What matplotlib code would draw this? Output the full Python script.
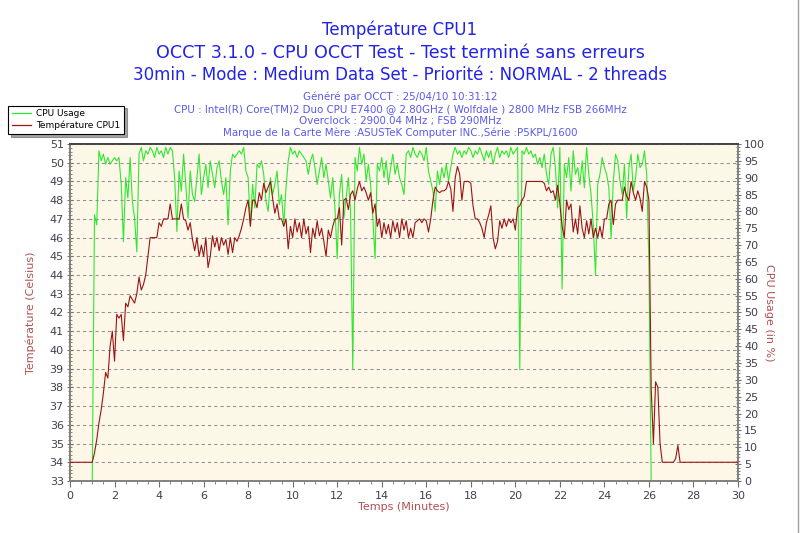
import numpy as np
import matplotlib
matplotlib.use("Agg")
import matplotlib.pyplot as plt
from matplotlib.ticker import MultipleLocator
from matplotlib.lines import Line2D

# ---------------- data (sampled every 0.1 minute, 0 .. 30 min) ----------------
time_min = np.round(np.arange(0, 301) * 0.1, 1)

temperature = [
    34, 34, 34, 34, 34, 34, 34, 34, 34, 34,            # 0.0 - 0.9
    34, 34.5, 35.2, 36.1, 36.8, 37.7, 38.8, 38.5, 40.2, 41.0,   # 1.0 - 1.9
    39.4, 41.9, 41.7, 41.9, 40.5, 42.5, 42.3, 42.9, 42.7, 42.5, # 2.0 - 2.9
    43.0, 43.9, 43.2, 43.5, 44.0, 45.0, 46.0, 46.0, 46.0, 46.0, # 3.0 - 3.9
    46.8, 46.6, 47.0, 47.0, 47.0, 47.8, 47.0, 47.0, 47.0, 47.0, # 4.0 - 4.9
    47.8, 47.0, 46.9, 46.4, 46.8, 45.9, 45.3, 46.0, 45.0, 45.6, # 5.0 - 5.9
    45.0, 46.0, 44.4, 45.0, 46.1, 45.5, 46.0, 45.3, 46.0, 45.6, # 6.0 - 6.9
    45.9, 45.1, 46.0, 45.2, 46.0, 45.8, 46.1, 46.5, 47.0, 47.6, # 7.0 - 7.9
    48.0, 46.6, 48.0, 48.0, 47.6, 48.4, 48.0, 48.9, 48.4, 48.7, # 8.0 - 8.9
    49.0, 48.1, 47.3, 47.8, 47.0, 47.0, 46.6, 47.0, 45.4, 46.6, # 9.0 - 9.9
    46.0, 47.0, 46.3, 46.8, 46.0, 47.0, 46.2, 46.6, 45.2, 46.5, # 10.0 - 10.9
    46.0, 46.9, 46.1, 46.5, 45.8, 45.0, 46.4, 46.0, 46.6, 47.0, # 11.0 - 11.9
    47.0, 47.6, 45.6, 48.0, 48.1, 47.5, 48.3, 48.5, 48.0, 48.6, # 12.0 - 12.9
    49.0, 48.5, 48.7, 48.4, 48.0, 48.4, 47.3, 47.8, 46.6, 47.0, # 13.0 - 13.9
    46.0, 46.8, 46.2, 46.7, 46.0, 46.9, 46.3, 46.8, 46.0, 47.0, # 14.0 - 14.9
    46.4, 46.9, 46.0, 46.5, 46.0, 46.8, 46.9, 47.0, 46.8, 47.0, # 15.0 - 15.9
    46.9, 46.3, 47.0, 48.0, 48.7, 48.5, 48.4, 48.5, 48.5, 48.6, # 16.0 - 16.9
    49.0, 48.6, 47.4, 49.2, 49.8, 49.4, 48.0, 49.0, 49.0, 49.0, # 17.0 - 17.9
    48.9, 47.7, 47.0, 47.0, 46.8, 46.5, 46.0, 46.8, 47.2, 47.7, # 18.0 - 18.9
    46.0, 45.4, 45.8, 46.9, 46.5, 47.0, 46.6, 47.0, 46.8, 47.0, # 19.0 - 19.9
    46.4, 47.6, 47.7, 48.0, 48.2, 49.0, 49.0, 49.0, 49.0, 49.0, # 20.0 - 20.9
    49.0, 49.0, 49.0, 48.9, 48.5, 48.7, 48.4, 48.5, 48.0, 48.8, # 21.0 - 21.9
    47.8, 46.6, 46.0, 48.0, 47.5, 47.8, 46.3, 47.0, 46.2, 47.7, # 22.0 - 22.9
    46.5, 46.0, 46.9, 46.2, 47.0, 46.0, 46.5, 46.0, 46.6, 46.0, # 23.0 - 23.9
    47.0, 47.0, 47.8, 48.0, 46.7, 47.8, 48.0, 48.0, 48.0, 48.7, # 24.0 - 24.9
    48.2, 48.0, 49.0, 48.4, 48.0, 48.5, 48.1, 47.4, 49.0, 48.7, # 25.0 - 25.9
    48.0, 38.0, 35.0, 38.3, 38.0, 35.0, 34.0, 34.0, 34.0, 34.0, # 26.0 - 26.9
    34.0, 34.0, 34.2, 34.9, 34.0, 34.0, 34.0, 34.0, 34.0, 34.0, # 27.0 - 27.9
    34, 34, 34, 34, 34, 34, 34, 34, 34, 34,                      # 28.0 - 28.9
    34, 34, 34, 34, 34, 34, 34, 34, 34, 34,                      # 29.0 - 29.9
    34,                                                          # 30.0
]

cpu_usage = [
    0, 0, 0, 0, 0, 0, 0, 0, 0, 0,                 # 0.0 - 0.9
    0, 79, 76, 98, 95, 97, 94, 96, 94, 95,        # 1.0 - 1.9
    96, 95, 96, 88, 71, 90, 84, 96, 83, 78,       # 2.0 - 2.9
    68, 97, 99, 95, 98, 97, 99, 98, 96, 99,       # 3.0 - 3.9
    97, 98, 96, 99, 97, 99, 98, 90, 74, 92,       # 4.0 - 4.9
    86, 97, 88, 78, 92, 85, 83, 90, 97, 85,       # 5.0 - 5.9
    90, 94, 87, 95, 91, 87, 93, 95, 89, 85,       # 6.0 - 6.9
    90, 76, 92, 97, 96, 97, 98, 97, 99, 92,       # 7.0 - 7.9
    90, 76, 88, 81, 94, 93, 95, 91, 83, 80,       # 8.0 - 8.9
    90, 85, 88, 92, 82, 85, 76, 87, 95, 99,       # 9.0 - 9.9
    97, 98, 96, 98, 97, 96, 95, 91, 95, 97,       # 10.0 - 10.9
    93, 88, 92, 96, 90, 94, 89, 84, 90, 81,       # 11.0 - 11.9
    66, 85, 91, 78, 84, 90, 80, 33, 96, 92,       # 12.0 - 12.9
    99, 94, 97, 89, 94, 88, 78, 66, 94, 92,       # 13.0 - 13.9
    96, 90, 95, 88, 93, 97, 91, 94, 90, 88,       # 14.0 - 14.9
    85, 97, 98, 96, 99, 97, 96, 98, 97, 95,       # 15.0 - 15.9
    99, 92, 89, 86, 80, 92, 88, 93, 90, 94,       # 16.0 - 16.9
    89, 93, 97, 99, 97, 98, 96, 98, 97, 99,       # 17.0 - 17.9
    98, 96, 98, 97, 99, 97, 95, 98, 96, 98,       # 18.0 - 18.9
    94, 97, 99, 96, 98, 97, 98, 96, 99, 97,       # 19.0 - 19.9
    98, 99, 33, 98, 97, 99, 97, 98, 96, 97,       # 20.0 - 20.9
    94, 96, 93, 97, 91, 88, 97, 99, 93, 81,       # 21.0 - 21.9
    99, 57, 94, 90, 96, 86, 98, 91, 93, 88,       # 22.0 - 22.9
    95, 87, 99, 91, 85, 76, 61, 88, 91, 96,       # 23.0 - 23.9
    93, 91, 87, 72, 89, 97, 95, 89, 85, 94,       # 24.0 - 24.9
    78, 93, 97, 86, 90, 97, 93, 94, 98, 91,       # 25.0 - 25.9
    64, 0, 0, 0, 0, 0, 0, 0, 0, 0,                # 26.0 - 26.9
    0, 0, 0, 0, 0, 0, 0, 0, 0, 0,                 # 27.0 - 27.9
    0, 0, 0, 0, 0, 0, 0, 0, 0, 0,                 # 28.0 - 28.9
    0, 0, 0, 0, 0, 0, 0, 0, 0, 0,                 # 29.0 - 29.9
    0,                                            # 30.0
]

x_ticks = list(range(0, 31, 2))
temp_ticks = list(range(33, 52))
cpu_ticks = list(range(0, 101, 5))

title_lines = [
    "Température CPU1",
    "OCCT 3.1.0 - CPU OCCT Test - Test terminé sans erreurs",
    "30min - Mode : Medium Data Set - Priorité : NORMAL - 2 threads",
]
info_lines = [
    "Généré par OCCT : 25/04/10 10:31:12",
    "CPU : Intel(R) Core(TM)2 Duo CPU E7400 @ 2.80GHz ( Wolfdale ) 2800 MHz FSB 266MHz",
    "Overclock : 2900.04 MHz ; FSB 290MHz",
    "Marque de la Carte Mère :ASUSTeK Computer INC.,Série :P5KPL/1600",
]

# ---------------- style ----------------
plt.rcParams['font.family'] = ['DejaVu Sans']
TITLE_BLUE = '#2323e6'
INFO_BLUE = '#5a5ae8'
AXIS_LABEL = '#b05050'
TICK_TXT = '#404050'
TEMP_COLOR = '#9a1414'
CPU_COLOR = '#2ee82e'
BG = '#fdf7e8'
GRID = '#8f8f8f'

fig = plt.figure(figsize=(8.0, 5.33), dpi=100)
ax_cpu = fig.add_axes([0.0875, 0.0976, 0.835, 0.6322])
ax = ax_cpu.twinx()
ax.yaxis.tick_left()
ax.yaxis.set_label_position('left')
ax_cpu.yaxis.tick_right()
ax_cpu.yaxis.set_label_position('right')

ax_cpu.set_facecolor(BG)
ax.patch.set_visible(False)

ax_cpu.plot(time_min, cpu_usage, color=CPU_COLOR, lw=0.8, zorder=2)
ax.plot(time_min, temperature, color=TEMP_COLOR, lw=0.8, zorder=3)

ax.set_xlim(0, 30)
ax.set_ylim(33, 51)
ax_cpu.set_ylim(0, 100)

ax_cpu.set_xticks(x_ticks)
ax_cpu.xaxis.set_minor_locator(MultipleLocator(0.5))
ax.set_yticks(temp_ticks)
ax.yaxis.set_minor_locator(MultipleLocator(0.2))
ax_cpu.set_yticks(cpu_ticks)
ax_cpu.yaxis.set_minor_locator(MultipleLocator(1))

ax.grid(True, axis='both', color=GRID, ls=(0, (3, 3)), lw=0.75)
ax.set_xticks(x_ticks)

for a in (ax, ax_cpu):
    a.tick_params(axis='both', which='major', labelsize=8, labelcolor=TICK_TXT,
                  color='#707070', length=5, width=0.8, pad=2)
    a.tick_params(axis='both', which='minor', color='#707070', length=2.5, width=0.6)
    for s in a.spines.values():
        s.set_color('#808080')
        s.set_linewidth(1.2)
    a.spines['top'].set_color('#404040')
ax.tick_params(axis='y', which='both', direction='inout')
ax_cpu.tick_params(axis='y', which='both', direction='inout')
ax.tick_params(axis='x', which='both', bottom=False, labelbottom=False)
ax_cpu.tick_params(axis='x', which='major', direction='out', length=4, pad=3)
ax_cpu.tick_params(axis='x', which='minor', direction='out', length=2.5)

ax.set_ylabel("Température (Celsius)", color=AXIS_LABEL, fontsize=8, labelpad=10)
ax_cpu.set_ylabel("CPU Usage (in %)", color=AXIS_LABEL, fontsize=8, rotation=270, labelpad=6)
ax_cpu.set_xlabel("Temps (Minutes)", color=AXIS_LABEL, fontsize=8, labelpad=1)

# titles
title_y = [0.944, 0.900, 0.859]
title_sizes = [12, 12.6, 12]
for txt, y, fs in zip(title_lines, title_y, title_sizes):
    fig.text(0.5, y, txt, ha='center', va='center', color=TITLE_BLUE, fontsize=fs)
info_y = [0.818, 0.795, 0.773, 0.750]
for txt, y in zip(info_lines, info_y):
    fig.text(0.5, y, txt, ha='center', va='center', color=INFO_BLUE, fontsize=7.4)

# legend
handles = [Line2D([], [], color=CPU_COLOR, lw=0.9),
           Line2D([], [], color=TEMP_COLOR, lw=0.9)]
leg = fig.legend(handles, ["CPU Usage", "Température CPU1"], loc='upper left',
                 bbox_to_anchor=(0.01, 0.802), fontsize=6.5, frameon=True, fancybox=False,
                 shadow=True, edgecolor='black', borderpad=0.4, labelspacing=0.3,
                 handlelength=2.2, handletextpad=0.5, borderaxespad=0)
leg.get_frame().set_linewidth(0.8)

# right border of picture
fig.add_artist(Line2D([0.997, 0.997], [0, 1], transform=fig.transFigure, color='#a0a0a0', lw=1))

fig.savefig("out.png", dpi=100, facecolor='white')
